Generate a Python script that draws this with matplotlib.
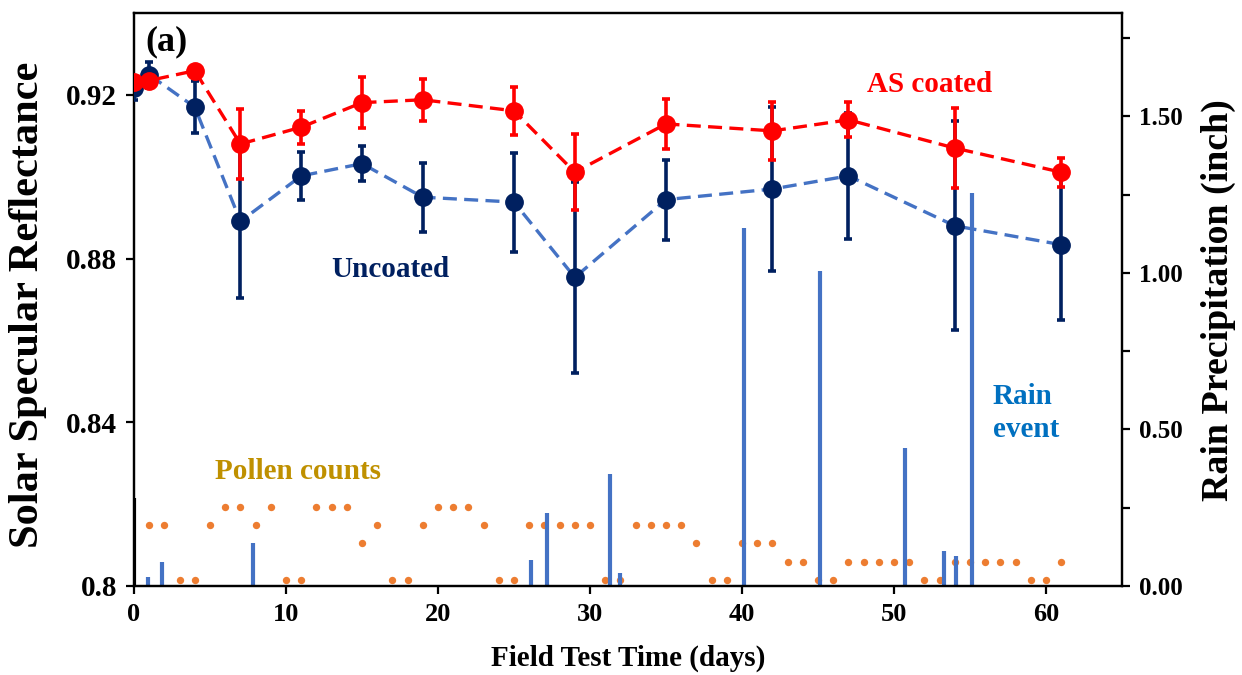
import matplotlib
matplotlib.use("Agg")
import matplotlib.pyplot as plt
from matplotlib.ticker import FixedLocator, NullFormatter

plt.rcParams['font.family'] = ['Liberation Serif', 'DejaVu Serif']
plt.rcParams['font.weight'] = 'bold'

# Reflectance measurements (field test day, mean, std)
days = [0, 1, 4, 7, 11, 15, 19, 25, 29, 35, 42, 47, 54, 61]
coated = [0.9232, 0.9235, 0.9259, 0.9080, 0.9121, 0.9181, 0.9188,
          0.9161, 0.9011, 0.9129, 0.9112, 0.9139, 0.9070, 0.9011]
coated_err = [0.0010, 0.0010, 0.0008, 0.0085, 0.0040, 0.0062, 0.0051,
              0.0059, 0.0093, 0.0062, 0.0071, 0.0043, 0.0098, 0.0035]
uncoated = [0.9216, 0.9249, 0.9170, 0.8891, 0.9002, 0.9032, 0.8950,
            0.8938, 0.8754, 0.8944, 0.8970, 0.9002, 0.8880, 0.8834]
uncoated_err = [0.0028, 0.0032, 0.0063, 0.0187, 0.0059, 0.0043, 0.0084,
                0.0121, 0.0234, 0.0098, 0.0201, 0.0154, 0.0255, 0.0185]

# Rain events (day, inches)
rain_days = [0.9, 1.85, 7.8, 26.1, 27.2, 31.3, 32.0, 40.1, 45.1, 50.7, 53.3, 54.1, 55.1]
rain_inch = [0.029, 0.077, 0.137, 0.083, 0.233, 0.358, 0.042, 1.144, 1.006,
             0.441, 0.112, 0.096, 1.256]
start_day = [0]
start_inch = [0.281]

# Daily pollen count level (1 = low ... 5 = very high)
pollen_days = list(range(1, 62))
pollen_level = [4, 4, 1, 1, 4, 5, 5, 4, 5, 1, 1, 5, 5, 5, 3, 4, 1, 1, 4, 5,
                5, 5, 4, 1, 1, 4, 4, 4, 4, 4, 1, 1, 4, 4, 4, 4, 3, 1, 1, 3,
                3, 3, 2, 2, 1, 1, 2, 2, 2, 2, 2, 1, 1, 2, 2, 2, 2, 2, 1, 1, 2]

left_ticks = [0.80, 0.84, 0.88, 0.92]
left_labels = ['0.8', '0.84', '0.88', '0.92']
right_ticks = [0.0, 0.5, 1.0, 1.5]
right_labels = ['0.00', '0.50', '1.00', '1.50']
right_minor = [0.25, 0.75, 1.25, 1.75]
x_ticks = [0, 10, 20, 30, 40, 50, 60]

RED = '#FF0000'
NAVY = '#002060'
LBLUE = '#4472C4'
ORANGE = '#ED7D31'

fig = plt.figure(figsize=(12.42, 6.75), dpi=100)
rect = [134 / 1242, 89 / 675, 988 / 1242, 573 / 675]
ax = fig.add_axes(rect)
ax2 = ax.twinx()
ax3 = ax.twinx()

# pollen dots on a hidden axis
ax3.plot(pollen_days, pollen_level, 'o', color=ORANGE, ms=5.3, mec='none')
ax3.set_ylim(0.672, 31.98)
ax3.axis('off')
ax3.set_zorder(1)

# rain bars
ax2.vlines(rain_days, 0, rain_inch, color=LBLUE, lw=3)
ax2.vlines(start_day, 0, start_inch, color='black', lw=3)
ax2.set_ylim(0, 1.83)
ax2.set_zorder(2)

ax.set_zorder(3)
ax.patch.set_visible(False)

dash = dict(ls=(0, (4.2, 2.2)), lw=2.4)
ax.plot(days, uncoated, color=LBLUE, **dash, zorder=2)
ax.errorbar(days, uncoated, yerr=uncoated_err, fmt='o', color=NAVY, ms=12.5,
            elinewidth=2.6, capsize=3, capthick=2.6, zorder=3)
ax.plot(days, coated, color=RED, **dash, zorder=4)
ax.errorbar(days, coated, yerr=coated_err, fmt='o', color=RED, ms=12.5,
            elinewidth=2.6, capsize=3, capthick=2.6, zorder=5)

ax.set_xlim(0, 65)
ax.set_ylim(0.80, 0.94)
ax.set_xticks(x_ticks)
ax.set_xticklabels([str(t) for t in x_ticks], fontsize=19, fontweight='bold')
ax.set_yticks(left_ticks)
ax.set_yticklabels(left_labels, fontsize=21, fontweight='bold')
ax.tick_params(axis='both', direction='out', length=6, width=1.6, pad=6)

ax2.yaxis.set_major_locator(FixedLocator(right_ticks))
ax2.set_yticklabels(right_labels, fontsize=18, fontweight='bold')
ax2.yaxis.set_minor_locator(FixedLocator(right_minor))
ax2.yaxis.set_minor_formatter(NullFormatter())
ax2.tick_params(axis='y', which='both', direction='out', length=6, width=1.6, pad=6)

for a in (ax, ax2):
    for s in a.spines.values():
        s.set_linewidth(1.6)

# axis titles
fig.text(28 / 1242, 1 - 305 / 675, 'Solar Specular Reflectance', rotation=90,
         ha='center', va='center', fontsize=30.5, fontweight='bold')
fig.text(1218 / 1242, 1 - 300 / 675, 'Rain Precipitation (inch)', rotation=90,
         ha='center', va='center', fontsize=27.3, fontweight='bold')
fig.text(628 / 1242, 1 - 658 / 675, 'Field Test Time (days)',
         ha='center', va='center', fontsize=21, fontweight='bold')

# annotations
ax.text(0.72, 0.931, '(a)', fontsize=26, fontweight='bold', va='baseline')
ax.text(48.2, 0.9208, 'AS coated', color=RED, fontsize=21, fontweight='bold', va='baseline')
ax.text(13.0, 0.8756, 'Uncoated', color=NAVY, fontsize=21, fontweight='bold', va='baseline')
ax.text(56.5, 0.8445, 'Rain', color='#0070C0', fontsize=21, fontweight='bold', va='baseline')
ax.text(56.5, 0.8364, 'event', color='#0070C0', fontsize=21, fontweight='bold', va='baseline')
ax.text(5.33, 0.8262, 'Pollen counts', color='#BF9000', fontsize=21, fontweight='bold', va='baseline')

fig.savefig('out.png', dpi=100)
